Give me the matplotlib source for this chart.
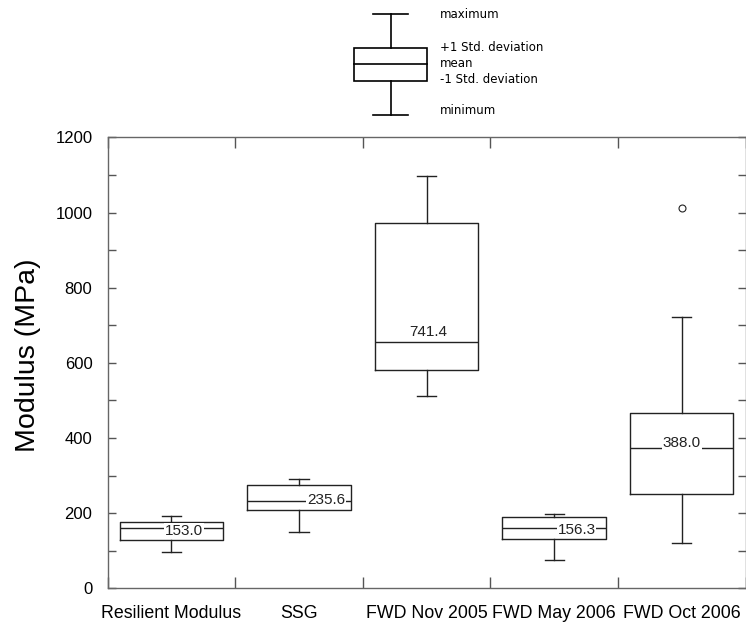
import matplotlib.pyplot as plt
from matplotlib.lines import Line2D
from matplotlib.patches import Rectangle

plt.rcParams['font.family'] = ['Liberation Sans', 'DejaVu Sans']

# values (MPa)
categories = ['Resilient Modulus', 'SSG', 'FWD Nov 2005', 'FWD May 2006', 'FWD Oct 2006']
whisker_low = [97.5, 149, 512, 75.3, 119.8]
box_low = [128.6, 208.4, 582, 130.4, 251]
center_line = [159.7, 233.2, 655.6, 159.7, 372.7]
box_high = [175.7, 275.8, 971.6, 190.6, 465.8]
whisker_high = [193.3, 291.8, 1098, 197, 723]
outliers = [[], [], [], [], [1011.5]]
mean_labels = ['153.0', '235.6', '741.4', '156.3', '388.0']
label_x = [1.10, 2.21, 3.01, 4.175, 5.0]
label_y = [153.0, 235.6, 683, 156.3, 388.0]

fig = plt.figure(figsize=(7.46, 6.25), dpi=100)
ax = fig.add_axes([107.7 / 746, 36.7 / 625, 637.8 / 746, 450.8 / 625])

stats = []
for i in range(len(categories)):
    stats.append({'whislo': whisker_low[i], 'q1': box_low[i], 'med': center_line[i],
                  'q3': box_high[i], 'whishi': whisker_high[i], 'fliers': outliers[i]})

line_col = '#222222'
ax.bxp(stats, positions=range(1, 6), widths=0.81, showfliers=True,
       boxprops=dict(color=line_col, lw=1),
       medianprops=dict(color=line_col, lw=1),
       whiskerprops=dict(color=line_col, lw=1),
       capprops=dict(color=line_col, lw=1),
       capwidths=0.15,
       flierprops=dict(marker='o', markersize=5, markerfacecolor='none',
                       markeredgecolor=line_col, markeredgewidth=0.8))

for i, txt in enumerate(mean_labels):
    ax.text(label_x[i], label_y[i], txt, ha='center', va='center', fontsize=11, color='#222222',
            bbox=dict(facecolor='white', edgecolor='none', pad=0.5))

ax.set_xlim(0.5, 5.5)
ax.set_ylim(0, 1200)
ax.set_yticks(range(0, 1201, 200))
ax.set_yticks(range(100, 1200, 200), minor=True)
ax.set_xticks([0.5, 1.5, 2.5, 3.5, 4.5, 5.5])
ax.set_xticklabels([])
ax.set_xticks(range(1, 6), minor=True)
ax.set_xticklabels(categories, minor=True, fontsize=12.8)
ax.tick_params(axis='y', which='both', direction='in', length=6, width=1, color='#555555',
               right=True, labelsize=12, pad=11)
ax.tick_params(axis='x', which='major', direction='in', length=8, width=1, color='#555555',
               top=True)
ax.tick_params(axis='x', which='minor', length=0, pad=12)
for s in ax.spines.values():
    s.set_color('#666666')
    s.set_linewidth(1)
ax.set_ylabel('Modulus (MPa)', fontsize=20.5)
ax.yaxis.set_label_coords(-0.104, 0.518)

# key drawn in pixel coordinates above the chart
key = fig.add_axes([0, 0, 1, 1])
key.set_xlim(0, 746)
key.set_ylim(625, 0)
key.axis('off')
key.patch.set_alpha(0)
key.add_patch(Rectangle((354, 48.3), 73.3, 32.7, fill=False, edgecolor='black', lw=1.2))
key.add_line(Line2D([354, 427.3], [64.3, 64.3], color='black', lw=1.2))
key.add_line(Line2D([390.5, 390.5], [14.3, 48.3], color='black', lw=1.2))
key.add_line(Line2D([390.5, 390.5], [81, 115], color='black', lw=1.2))
key.add_line(Line2D([373.3, 407.7], [14.3, 14.3], color='black', lw=1.2))
key.add_line(Line2D([373.3, 407.7], [115, 115], color='black', lw=1.2))
key_texts = [('maximum', 14.3), ('+1 Std. deviation', 47.3), ('mean', 63.3),
             ('-1 Std. deviation', 79.3), ('minimum', 110)]
for txt, y in key_texts:
    key.text(440, y, txt, fontsize=8.5, family='DejaVu Sans', va='center', ha='left')

fig.savefig('out.png', dpi=100)
